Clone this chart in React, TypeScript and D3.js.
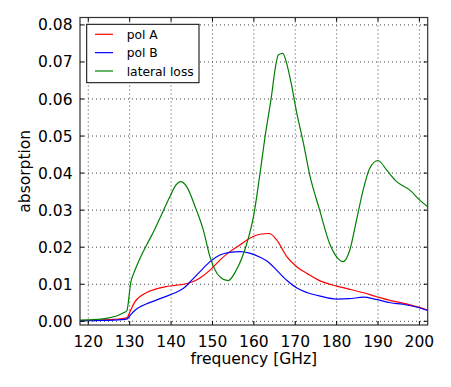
import * as d3 from 'd3';

// frequency grid shared by pol A / pol B (GHz)
const freqAB = [118, 122, 126, 129.3, 130.2, 131.3, 132.8, 134.5, 138.5, 141, 143, 145, 147, 149.4, 151.8, 154.2, 156.6, 159, 161.5, 163.7, 165.5, 168, 170.5, 173, 176, 180, 183, 186.5, 189.5, 193, 196, 199.5, 202];
const polA = [0.0002, 0.0003, 0.0005, 0.0009, 0.0029, 0.0053, 0.0069, 0.008, 0.0093, 0.0097, 0.01, 0.0106, 0.0117, 0.0138, 0.0165, 0.0188, 0.0206, 0.0224, 0.0235, 0.0237, 0.022, 0.0174, 0.0146, 0.0128, 0.0109, 0.0095, 0.0087, 0.0077, 0.0067, 0.0056, 0.0049, 0.0039, 0.003];
const polB = [0.0001, 0.0002, 0.0003, 0.0006, 0.0017, 0.003, 0.0041, 0.0049, 0.0066, 0.0077, 0.0089, 0.0111, 0.0134, 0.0161, 0.0179, 0.0186, 0.0188, 0.0184, 0.0173, 0.0158, 0.0138, 0.011, 0.0089, 0.0077, 0.0068, 0.006, 0.0061, 0.0065, 0.0059, 0.005, 0.0046, 0.0038, 0.0029];

const freqLat = [118, 122, 125, 127, 128.5, 129.3, 130.3, 131, 132.5, 134.1, 136, 137.3, 139.7, 141.2, 142.3, 143.8, 145.8, 147.8, 149.4, 151.8, 153.8, 155.8, 158.3, 159.9, 161.5, 162.7, 164.3, 165.1, 165.9, 167, 167.9, 169.1, 170.3, 171.9, 173.5, 175.9, 178.3, 180, 181.6, 183.2, 184.8, 186.4, 188, 190, 192.1, 194.5, 197.7, 200.1, 202];
const lateral = [0.0003, 0.0005, 0.0009, 0.0015, 0.0023, 0.0028, 0.0107, 0.013, 0.017, 0.0206, 0.0247, 0.0278, 0.0336, 0.0368, 0.0377, 0.0363, 0.031, 0.0246, 0.0174, 0.012, 0.011, 0.0139, 0.021, 0.0282, 0.04, 0.0498, 0.0611, 0.0678, 0.0719, 0.0723, 0.0697, 0.0638, 0.0566, 0.0485, 0.0395, 0.03, 0.021, 0.0174, 0.0161, 0.0193, 0.0273, 0.0354, 0.0413, 0.0434, 0.0408, 0.0377, 0.0354, 0.0327, 0.0309];

const xTicks = [120, 130, 140, 150, 160, 170, 180, 190, 200];
const yTicks = [0, 0.01, 0.02, 0.03, 0.04, 0.05, 0.06, 0.07, 0.08];

const W = 451;
const H = 387;
const L = 80, R = 427.7, T = 17.5, B = 325;
const font = 'DejaVu Sans, sans-serif';

export default function App() {
  const x = d3.scaleLinear().domain([118, 202]).range([L, R]);
  const y = d3.scaleLinear().domain([-0.001, 0.082]).range([B, T]);

  const line = (fx: number[], vals: number[]) =>
    d3.line<number>()
      .x((_, i) => x(fx[i]))
      .y(d => y(d))
      .curve(d3.curveMonotoneX)(vals) as string;

  const series = [
    { label: 'pol A', color: '#ff0000', d: line(freqAB, polA) },
    { label: 'pol B', color: '#0000ff', d: line(freqAB, polB) },
    { label: 'lateral loss', color: '#008000', d: line(freqLat, lateral) },
  ];

  return (
    <svg width={W} height={H} style={{ position: 'absolute', left: 0, top: 0, background: '#fff' }} fontFamily={font}>
      <defs>
        <clipPath id="plot">
          <rect x={L} y={T} width={R - L} height={B - T} />
        </clipPath>
      </defs>

      {/* grid */}
      {xTicks.map(t => (
        <line key={'gx' + t} x1={x(t)} x2={x(t)} y1={T} y2={B} stroke="#444" strokeWidth={1} strokeDasharray="1,3" />
      ))}
      {yTicks.map(t => (
        <line key={'gy' + t} x1={L} x2={R} y1={y(t)} y2={y(t)} stroke="#444" strokeWidth={1} strokeDasharray="1,3" />
      ))}

      <g clipPath="url(#plot)" fill="none" strokeWidth={1.2}>
        {series.map(s => (
          <path key={s.label} d={s.d} stroke={s.color} />
        ))}
      </g>

      {/* ticks, inside on all four sides */}
      {xTicks.map(t => (
        <g key={'tx' + t} stroke="#000" strokeWidth={1}>
          <line x1={x(t)} x2={x(t)} y1={B} y2={B - 4} />
          <line x1={x(t)} x2={x(t)} y1={T} y2={T + 4} />
        </g>
      ))}
      {yTicks.map(t => (
        <g key={'ty' + t} stroke="#000" strokeWidth={1}>
          <line x1={L} x2={L + 4} y1={y(t)} y2={y(t)} />
          <line x1={R} x2={R - 4} y1={y(t)} y2={y(t)} />
        </g>
      ))}

      <rect x={L} y={T} width={R - L} height={B - T} fill="none" stroke="#333" strokeWidth={1.2} />

      {/* tick labels */}
      {xTicks.map(t => (
        <text key={'lx' + t} x={x(t)} y={346.5} textAnchor="middle" fontSize={15.5}>{t}</text>
      ))}
      {yTicks.map(t => (
        <text key={'ly' + t} x={72.5} y={y(t) + 5.5} textAnchor="end" fontSize={15.5}>{t.toFixed(2)}</text>
      ))}

      <text x={(L + R) / 2} y={364} textAnchor="middle" fontSize={15.5}>frequency [GHz]</text>
      <text transform={`translate(30, ${(T + B) / 2}) rotate(-90)`} textAnchor="middle" fontSize={15.5}>absorption</text>

      {/* legend */}
      <rect x={86.7} y={24.3} width={112.3} height={58.4} fill="#fff" stroke="#000" strokeWidth={1} />
      {series.map((s, i) => (
        <g key={'lg' + s.label}>
          <line x1={95} x2={113} y1={34.3 + i * 18.35} y2={34.3 + i * 18.35} stroke={s.color} strokeWidth={1.2} />
          <text x={126.7} y={34.3 + i * 18.35 + 4.5} fontSize={12.3}>{s.label}</text>
        </g>
      ))}
    </svg>
  );
}
